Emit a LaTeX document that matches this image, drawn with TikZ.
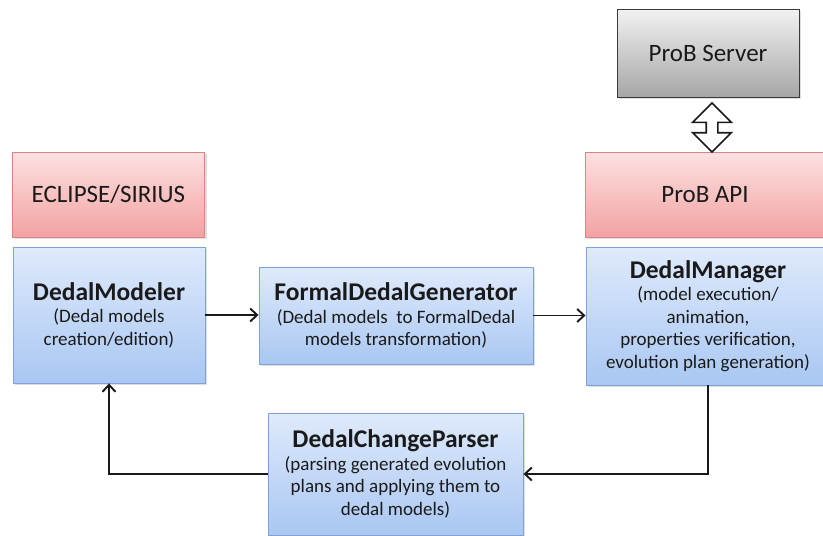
\documentclass[tikz,border=0pt]{standalone}
\usepackage{fontspec}
\setmainfont{Carlito}
\usepackage{xcolor}
\usetikzlibrary{calc,arrows.meta,shapes.arrows,shadows}
\definecolor{ink}{HTML}{1A1A1A}
\definecolor{redtop}{HTML}{FDE1E1}
\definecolor{redbot}{HTML}{F3A2A2}
\definecolor{redline}{HTML}{D98585}
\definecolor{bluetop}{HTML}{DFEAFC}
\definecolor{bluebot}{HTML}{A9C7F2}
\definecolor{blueline}{HTML}{7FA3D6}
\definecolor{graytop}{HTML}{F2F2F2}
\definecolor{graybot}{HTML}{A6A6A6}
\definecolor{grayline}{HTML}{3A3A3A}
\tikzset{
  box/.style={rectangle, inner sep=0pt, align=center, text=ink, line width=0.9pt,
    drop shadow={opacity=0.25, shadow xshift=2pt, shadow yshift=-2pt}},
  platform/.style={box, draw=redline, top color=redtop, bottom color=redbot,
    font=\fontsize{25}{29}\selectfont},
  tool/.style={box, draw=blueline, top color=bluetop, bottom color=bluebot,
    font=\fontsize{19}{22.5}\selectfont},
  server/.style={box, draw=grayline, top color=graytop, bottom color=graybot,
    font=\fontsize{25}{29}\selectfont},
  flow/.style={draw=ink, line width=1.9pt, -{Straight Barb[length=7pt,width=13pt]}},
  link/.style={double arrow, draw=ink, fill=white, line width=1.6pt, rotate=90,
    minimum height=49pt, inner sep=5pt, double arrow head extend=13.5pt}
}
\newcommand{\ttl}[1]{{\fontsize{25.5}{29}\selectfont\bfseries #1}}

\begin{document}
\begin{tikzpicture}[x=1pt, y=-1pt]
  \useasboundingbox (0,0) rectangle (823,536);

  % platforms
  \node[platform, minimum width=192, minimum height=85] (eclipse) at (108.5,194.5) {ECLIPSE/SIRIUS};
  \node[platform, minimum width=244, minimum height=85] (api) at (707,194.5) {\hspace*{-4pt}ProB API};
  \node[server, minimum width=182, minimum height=88] (prob) at (708,53) {ProB Server};

  % tools
  \node[tool, minimum width=192, minimum height=136] (modeler) at (109,315)
    {\ttl{DedalModeler}\\(Dedal models\\creation/edition)};
  \node[tool, minimum width=274, minimum height=97] (generator) at (396,315.5)
    {\ttl{FormalDedalGenerator}\\(Dedal models\ \ to FormalDedal\\models transformation)};
  \node[tool, minimum width=244, minimum height=138] (manager) at (708,316)
    {\ttl{DedalManager}\\(model execution/\\animation,\\properties verification,\\evolution plan generation)};
  \node[tool, minimum width=255, minimum height=122] (parser) at (395.5,474)
    {\ttl{DedalChangeParser}\\(parsing generated evolution\\plans and applying them\ to\\dedal models)};

  \node[link] (wire) at (712,127.5) {};

  \draw[flow] (modeler.east) -- (modeler.east -| generator.west);
  \draw[flow] (generator.east) -- (generator.east -| manager.west);
  \draw[flow] (manager.south) |- (parser.east);
  \draw[flow] (parser.west) -| (modeler.south);
\end{tikzpicture}
\end{document}
